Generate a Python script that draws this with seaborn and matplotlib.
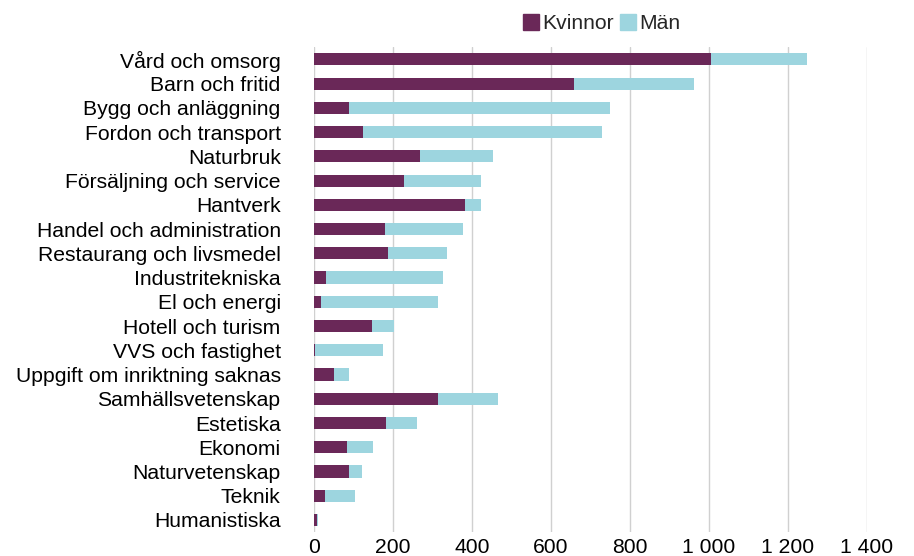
import pandas as pd
import seaborn as sns
import matplotlib.pyplot as plt
from matplotlib.ticker import FuncFormatter
from matplotlib.patches import Patch

categories = ["Vård och omsorg", "Barn och fritid", "Bygg och anläggning",
              "Fordon och transport", "Naturbruk", "Försäljning och service",
              "Hantverk", "Handel och administration", "Restaurang och livsmedel",
              "Industritekniska", "El och energi", "Hotell och turism",
              "VVS och fastighet", "Uppgift om inriktning saknas",
              "Samhällsvetenskap", "Estetiska", "Ekonomi", "Naturvetenskap",
              "Teknik", "Humanistiska"]
kvinnor = [1005, 658, 88, 124, 268, 229, 383, 181, 187, 31,
           18, 148, 3, 51, 314, 182, 83, 89, 29, 7]
man = [242, 304, 662, 606, 186, 195, 39, 196, 149, 295,
       296, 55, 173, 38, 153, 79, 66, 33, 76, 2]

purple = "#6a2858"
blue = "#9dd5df"

df = pd.DataFrame({"Utbildning": categories, "Kvinnor": kvinnor, "Män": man})
df["Totalt"] = df["Kvinnor"] + df["Män"]

sns.set_theme(style="white")
plt.rcParams["font.family"] = ["Liberation Sans", "DejaVu Sans"]

fig, ax = plt.subplots(figsize=(9.14, 5.56), dpi=100)
fig.subplots_adjust(left=0.3435, right=0.9486, top=0.915, bottom=0.043)

sns.barplot(data=df, y="Utbildning", x="Totalt", color=blue, width=0.5,
            orient="h", ax=ax, saturation=1, linewidth=0)
sns.barplot(data=df, y="Utbildning", x="Kvinnor", color=purple, width=0.5,
            orient="h", ax=ax, saturation=1, linewidth=0)

ax.set_xlim(0, 1400)
ax.set_xticks(range(0, 1401, 200))
ax.xaxis.set_major_formatter(FuncFormatter(lambda v, p: f"{int(v):,}".replace(",", " ")))
ax.grid(axis="x", color="#d0d0d0", linewidth=1)
ax.set_axisbelow(True)
for s in ax.spines.values():
    s.set_visible(False)
ax.set_xlabel("")
ax.set_ylabel("")
ax.tick_params(axis="both", labelsize=15.2, length=0, colors="black")
ax.tick_params(axis="y", pad=24)
ax.tick_params(axis="x", pad=4)

handles = [Patch(color=purple, label="Kvinnor"), Patch(color=blue, label="Män")]
fig.legend(handles=handles, loc="center", bbox_to_anchor=(0.658, 0.957), ncol=2,
           frameon=False, fontsize=15.2, handlelength=0.75, handleheight=0.75,
           handletextpad=0.15, columnspacing=0.3, borderpad=0)

fig.savefig("out.png", dpi=100)
